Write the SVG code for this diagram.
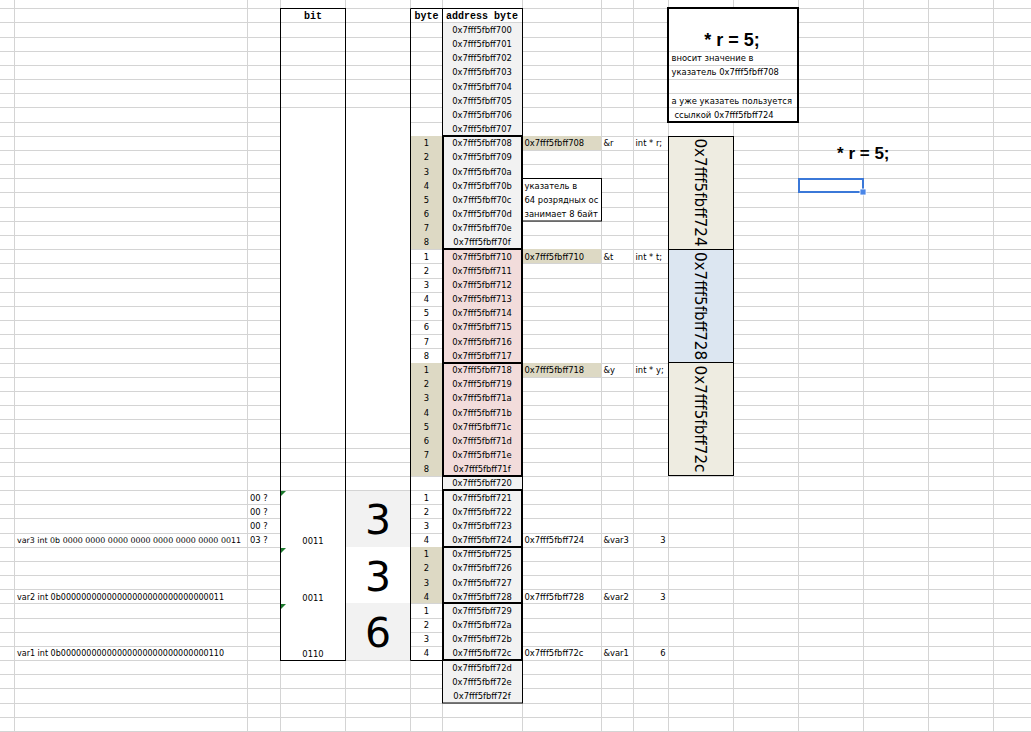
<svg xmlns="http://www.w3.org/2000/svg" width="1031" height="732" viewBox="0 0 1031 732">
  <style>
    .grid { stroke: #d4d4d4; stroke-width: 1; fill: none; }
    .b1 { stroke: #000; stroke-width: 1; fill: none; }
    .b2 { stroke: #000; stroke-width: 2; fill: none; }
    text { font-family: "DejaVu Sans", Verdana, sans-serif; font-size: 8.4px; fill: #000; }
    .c { text-anchor: middle; }
    .r { text-anchor: end; }
    .hdr { font-family: "Liberation Mono", "Courier New", monospace; font-size: 10px; font-weight: bold; text-anchor: middle; }
    .big { font-size: 41px; text-anchor: middle; }
    .vert { font-size: 15.2px; text-anchor: middle; }
    .expr { font-family: "Liberation Sans", Arial, sans-serif; font-size: 18px; font-weight: bold; text-anchor: middle; }
    .bin { font-size: 8.1px; }
    .gray { fill: #f2f2f2; }
    .pink { fill: #f2dcdb; }
    .tan { fill: #ddd9c4; }
    .cream { fill: #eeece1; }
    .blue { fill: #dce6f1; }
    .white { fill: #ffffff; }
  </style>

  <rect x="0" y="0" width="1031" height="732" fill="#ffffff"/>

  <!-- sheet gridlines -->
  <g id="gridlines">
    <path class="grid" d="M0 8.5H1031M0 22.5H1031M0 37.5H1031M0 51.5H1031M0 65.5H1031M0 79.5H1031M0 93.5H1031M0 107.5H1031M0 122.5H1031M0 136.5H1031M0 150.5H1031M0 164.5H1031M0 178.5H1031M0 192.5H1031M0 207.5H1031M0 221.5H1031M0 235.5H1031M0 249.5H1031M0 263.5H1031M0 278.5H1031M0 292.5H1031M0 306.5H1031M0 320.5H1031M0 334.5H1031M0 348.5H1031M0 363.5H1031M0 377.5H1031M0 391.5H1031M0 405.5H1031M0 419.5H1031M0 433.5H1031M0 448.5H1031M0 462.5H1031M0 476.5H1031M0 490.5H1031M0 504.5H1031M0 518.5H1031M0 533.5H1031M0 547.5H1031M0 561.5H1031M0 575.5H1031M0 589.5H1031M0 603.5H1031M0 618.5H1031M0 632.5H1031M0 646.5H1031M0 660.5H1031M0 674.5H1031M0 688.5H1031M0 703.5H1031M0 717.5H1031M0 731.5H1031"/>
    <path class="grid" d="M14.5 0V732M247.5 0V732M280.5 0V732M345.5 0V732M410.5 0V732M442.5 0V732M522.5 0V732M601.5 0V732M633.5 0V732M668.5 0V732M733.5 0V732M798.5 0V732M863.5 0V732M928.5 0V732M993.5 0V732"/>
  </g>

  <!-- cell fills -->
  <g id="fills">
    <rect class="white" x="281" y="122" width="129" height="311"/>
    <rect class="gray" x="443" y="23" width="79" height="226"/>
    <rect class="pink" x="443" y="249" width="79" height="227"/>
    <rect class="gray" x="443" y="476" width="79" height="227"/>
    <rect class="tan" x="411" y="136" width="31" height="113"/>
    <rect class="tan" x="411" y="363" width="31" height="113"/>
    <rect class="tan" x="411" y="547" width="31" height="56"/>
    <rect class="tan" x="523" y="136" width="78" height="14"/>
    <rect class="tan" x="523" y="249" width="78" height="14"/>
    <rect class="tan" x="523" y="363" width="78" height="14"/>
    <rect class="cream" x="669" y="136" width="64" height="113"/>
    <rect class="blue" x="669" y="249" width="64" height="114"/>
    <rect class="cream" x="669" y="363" width="64" height="113"/>
    <rect class="white" x="281" y="491" width="64" height="169"/>
    <rect class="gray" x="346" y="491" width="64" height="56"/>
    <rect class="white" x="346" y="547" width="64" height="56"/>
    <rect class="gray" x="346" y="603" width="64" height="57"/>
    <rect class="white" x="523" y="179" width="78" height="42"/>
    <rect class="white" x="669" y="9" width="129" height="113"/>
  </g>

  <!-- bit column -->
  <g id="bit-column">
    <rect class="b1" x="280.5" y="8.5" width="65" height="652"/>
    <text class="hdr" x="313" y="19">bit</text>
    <polygon points="281,491 286,491 281,496" fill="#1d7a2e"/>
    <polygon points="281,548 286,548 281,553" fill="#1d7a2e"/>
    <polygon points="281,604 286,604 281,609" fill="#1d7a2e"/>
    <text class="c" x="313" y="544">0011</text>
    <text class="c" x="313" y="600.5">0011</text>
    <text class="c" x="313" y="657">0110</text>
  </g>

  <!-- decimal values -->
  <g id="values">
    <text class="big" x="378" y="533.5">3</text>
    <text class="big" x="378" y="590.5">3</text>
    <text class="big" x="378" y="647">6</text>
  </g>

  <!-- byte index column -->
  <g id="byte-column">
    <path class="b1" d="M410.5 8.5V660.5H442.5M410.5 8.5H442.5"/>
    <text class="hdr" x="426.5" y="19">byte</text>
    <g class="c">
      <text class="c" x="426.5" y="146.2">1</text><text class="c" x="426.5" y="160.4">2</text><text class="c" x="426.5" y="174.6">3</text><text class="c" x="426.5" y="188.7">4</text>
      <text class="c" x="426.5" y="202.9">5</text><text class="c" x="426.5" y="217.1">6</text><text class="c" x="426.5" y="231.3">7</text><text class="c" x="426.5" y="245.4">8</text>
      <text class="c" x="426.5" y="259.6">1</text><text class="c" x="426.5" y="273.8">2</text><text class="c" x="426.5" y="287.9">3</text><text class="c" x="426.5" y="302.1">4</text>
      <text class="c" x="426.5" y="316.3">5</text><text class="c" x="426.5" y="330.4">6</text><text class="c" x="426.5" y="344.6">7</text><text class="c" x="426.5" y="358.8">8</text>
      <text class="c" x="426.5" y="373.0">1</text><text class="c" x="426.5" y="387.1">2</text><text class="c" x="426.5" y="401.3">3</text><text class="c" x="426.5" y="415.5">4</text>
      <text class="c" x="426.5" y="429.6">5</text><text class="c" x="426.5" y="443.8">6</text><text class="c" x="426.5" y="458.0">7</text><text class="c" x="426.5" y="472.1">8</text>
      <text class="c" x="426.5" y="500.5">1</text><text class="c" x="426.5" y="514.7">2</text><text class="c" x="426.5" y="528.8">3</text><text class="c" x="426.5" y="543.0">4</text>
      <text class="c" x="426.5" y="557.2">1</text><text class="c" x="426.5" y="571.3">2</text><text class="c" x="426.5" y="585.5">3</text><text class="c" x="426.5" y="599.7">4</text>
      <text class="c" x="426.5" y="613.8">1</text><text class="c" x="426.5" y="628.0">2</text><text class="c" x="426.5" y="642.2">3</text><text class="c" x="426.5" y="656.4">4</text>
    </g>
  </g>

  <!-- address column -->
  <g id="address-column">
    <rect class="b1" x="442.5" y="8.5" width="80" height="694.5"/>
    <rect class="b2" x="443" y="136" width="79" height="113"/>
    <rect class="b2" x="443" y="249" width="79" height="114"/>
    <rect class="b2" x="443" y="363" width="79" height="113"/>
    <rect class="b2" x="443" y="490" width="79" height="57"/>
    <rect class="b2" x="443" y="547" width="79" height="56"/>
    <rect class="b2" x="443" y="603" width="79" height="57"/>
    <text class="hdr" x="482" y="19">address byte</text>
    <text class="c" x="482" y="32.9">0x7fff5fbff700</text>
    <text class="c" x="482" y="47.0">0x7fff5fbff701</text>
    <text class="c" x="482" y="61.2">0x7fff5fbff702</text>
    <text class="c" x="482" y="75.4">0x7fff5fbff703</text>
    <text class="c" x="482" y="89.6">0x7fff5fbff704</text>
    <text class="c" x="482" y="103.7">0x7fff5fbff705</text>
    <text class="c" x="482" y="117.9">0x7fff5fbff706</text>
    <text class="c" x="482" y="132.1">0x7fff5fbff707</text>
    <text class="c" x="482" y="146.2">0x7fff5fbff708</text>
    <text class="c" x="482" y="160.4">0x7fff5fbff709</text>
    <text class="c" x="482" y="174.6">0x7fff5fbff70a</text>
    <text class="c" x="482" y="188.7">0x7fff5fbff70b</text>
    <text class="c" x="482" y="202.9">0x7fff5fbff70c</text>
    <text class="c" x="482" y="217.1">0x7fff5fbff70d</text>
    <text class="c" x="482" y="231.3">0x7fff5fbff70e</text>
    <text class="c" x="482" y="245.4">0x7fff5fbff70f</text>
    <text class="c" x="482" y="259.6">0x7fff5fbff710</text>
    <text class="c" x="482" y="273.8">0x7fff5fbff711</text>
    <text class="c" x="482" y="287.9">0x7fff5fbff712</text>
    <text class="c" x="482" y="302.1">0x7fff5fbff713</text>
    <text class="c" x="482" y="316.3">0x7fff5fbff714</text>
    <text class="c" x="482" y="330.4">0x7fff5fbff715</text>
    <text class="c" x="482" y="344.6">0x7fff5fbff716</text>
    <text class="c" x="482" y="358.8">0x7fff5fbff717</text>
    <text class="c" x="482" y="373.0">0x7fff5fbff718</text>
    <text class="c" x="482" y="387.1">0x7fff5fbff719</text>
    <text class="c" x="482" y="401.3">0x7fff5fbff71a</text>
    <text class="c" x="482" y="415.5">0x7fff5fbff71b</text>
    <text class="c" x="482" y="429.6">0x7fff5fbff71c</text>
    <text class="c" x="482" y="443.8">0x7fff5fbff71d</text>
    <text class="c" x="482" y="458.0">0x7fff5fbff71e</text>
    <text class="c" x="482" y="472.1">0x7fff5fbff71f</text>
    <text class="c" x="482" y="486.3">0x7fff5fbff720</text>
    <text class="c" x="482" y="500.5">0x7fff5fbff721</text>
    <text class="c" x="482" y="514.7">0x7fff5fbff722</text>
    <text class="c" x="482" y="528.8">0x7fff5fbff723</text>
    <text class="c" x="482" y="543.0">0x7fff5fbff724</text>
    <text class="c" x="482" y="557.2">0x7fff5fbff725</text>
    <text class="c" x="482" y="571.3">0x7fff5fbff726</text>
    <text class="c" x="482" y="585.5">0x7fff5fbff727</text>
    <text class="c" x="482" y="599.7">0x7fff5fbff728</text>
    <text class="c" x="482" y="613.8">0x7fff5fbff729</text>
    <text class="c" x="482" y="628.0">0x7fff5fbff72a</text>
    <text class="c" x="482" y="642.2">0x7fff5fbff72b</text>
    <text class="c" x="482" y="656.4">0x7fff5fbff72c</text>
    <text class="c" x="482" y="670.5">0x7fff5fbff72d</text>
    <text class="c" x="482" y="684.7">0x7fff5fbff72e</text>
    <text class="c" x="482" y="698.9">0x7fff5fbff72f</text>
  </g>

  <!-- variable addresses, names and declarations -->
  <g id="variables">
    <text x="524.5" y="146.2">0x7fff5fbff708</text>
    <text x="524.5" y="259.6">0x7fff5fbff710</text>
    <text x="524.5" y="373.0">0x7fff5fbff718</text>
    <text x="524.5" y="543.0">0x7fff5fbff724</text>
    <text x="524.5" y="599.7">0x7fff5fbff728</text>
    <text x="524.5" y="656.4">0x7fff5fbff72c</text>
    <text x="603.5" y="146.2">&amp;r</text>
    <text x="603.5" y="259.6">&amp;t</text>
    <text x="603.5" y="373.0">&amp;y</text>
    <text x="603.5" y="543.0">&amp;var3</text>
    <text x="603.5" y="599.7">&amp;var2</text>
    <text x="603.5" y="656.4">&amp;var1</text>
    <text x="635.5" y="146.2">int * r;</text>
    <text x="635.5" y="259.6">int * t;</text>
    <text x="635.5" y="373.0">int * y;</text>
    <text class="r" x="665.5" y="543.0">3</text>
    <text class="r" x="665.5" y="599.7">3</text>
    <text class="r" x="665.5" y="656.4">6</text>
  </g>

  <!-- pointer size note -->
  <g id="pointer-note">
    <rect class="b1" x="522.5" y="178.5" width="79" height="42.5"/>
    <text x="524.5" y="188.7">указатель в</text>
    <text x="524.5" y="202.9">64 розрядных ос</text>
    <text x="524.5" y="217.1">занимает 8 байт</text>
  </g>

  <!-- pointer values stored in r, t, y -->
  <g id="pointer-values">
    <rect class="b1" x="668.5" y="136.5" width="65" height="113"/>
    <rect class="b1" x="668.5" y="249.5" width="65" height="113"/>
    <rect class="b1" x="668.5" y="362.5" width="65" height="113"/>
    <text class="vert" transform="translate(700.75 192.5) rotate(90)" x="0" y="5.5">0x7fff5fbff724</text>
    <text class="vert" transform="translate(700.75 306) rotate(90)" x="0" y="5.5">0x7fff5fbff728</text>
    <text class="vert" transform="translate(700.75 419) rotate(90)" x="0" y="5.5">0x7fff5fbff72c</text>
  </g>

  <!-- explanation box -->
  <g id="explanation">
    <path class="grid" d="M669 51.5H798M669 65.5H798M669 79.5H798M669 93.5H798M669 107.5H798"/>
    <rect class="b2" x="668" y="8" width="130" height="114"/>
    <text class="expr" x="732" y="45.5">* r = 5;</text>
    <text x="671.5" y="61.2">вносит значение в</text>
    <text x="671.5" y="75.4">указатель 0x7fff5fbff708</text>
    <text x="671.5" y="103.7">а уже указатеь пользуется</text>
    <text x="674.5" y="117.9">ссылкой 0x7fff5fbff724</text>
  </g>

  <g id="expression">
    <text class="expr" x="863.3" y="159" style="font-size:17px">* r = 5;</text>
  </g>

  <!-- binary representation of the ints -->
  <g id="binary">
    <text class="bin" x="17" y="543.0" style="font-size:7.9px" textLength="224" lengthAdjust="spacingAndGlyphs">var3 int 0b 0000 0000 0000 0000 0000 0000 0000 0011</text>
    <text class="bin" x="17" y="599.7" textLength="207" lengthAdjust="spacingAndGlyphs">var2 int 0b00000000000000000000000000000011</text>
    <text class="bin" x="17" y="656.4" textLength="207" lengthAdjust="spacingAndGlyphs">var1 int 0b00000000000000000000000000000110</text>
    <text x="250" y="500.5">00 ?</text>
    <text x="250" y="514.7">00 ?</text>
    <text x="250" y="528.8">00 ?</text>
    <text x="250" y="543.0">03 ?</text>
  </g>

  <!-- active cell -->
  <g id="selection">
    <rect x="799" y="179" width="64" height="13" fill="none" stroke="#3b78d8" stroke-width="2"/>
    <rect x="860" y="189" width="6" height="6" fill="#4a86e8" stroke="#ffffff" stroke-width="0.8"/>
  </g>
</svg>
